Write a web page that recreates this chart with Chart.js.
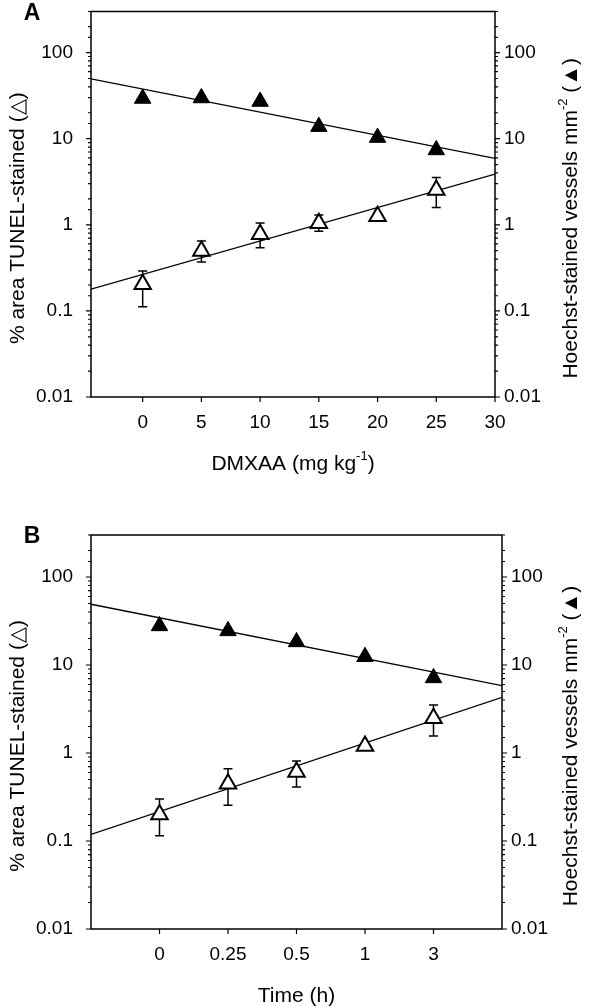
<!DOCTYPE html>
<html>
<head>
<meta charset="utf-8">
<title>DMXAA - TUNEL / Hoechst</title>
<script src="https://cdn.jsdelivr.net/npm/chart.js@4.4.1/dist/chart.umd.min.js"></script>
<style>
  html, body { margin: 0; padding: 0; background: #fff; }
  canvas { display: block; }
</style>
</head>
<body>
<canvas id="chartA" width="600" height="503"></canvas>
<canvas id="chartB" width="600" height="503"></canvas>
<script>
// Panel A - dose (mg/kg)
var doseA = [0, 5, 10, 15, 20, 25];
var hoechstA = [29.3, 29.7, 27.0, 13.8, 10.3, 7.4];
var tunelA = [0.204, 0.495, 0.776, 1.04, 1.26, 2.53];
var tunelHiA = [0.29, 0.65, 1.05, 1.30, null, 3.55];
var tunelLoA = [0.112, 0.37, 0.54, 0.84, null, 1.59];
var fitXA = [-4.4, 30];
var fitHoechstA = [49.5, 5.9];
var fitTunelA = [0.179, 3.88];
var xTicksA = [0, 5, 10, 15, 20, 25, 30];

// Panel B - time (h), equally spaced categories
var timeLabelsB = ['0', '0.25', '0.5', '1', '3'];
var hoechstB = [27.8, 24.4, 18.3, 12.4, 7.13];
var tunelB = [0.20, 0.446, 0.61, 1.2, 2.49];
var tunelHiB = [0.30, 0.66, 0.81, null, 3.5];
var tunelLoB = [0.115, 0.255, 0.41, null, 1.56];
var fitXB = [-1, 5];
var fitHoechstB = [49, 5.84];
var fitTunelB = [0.119, 4.3];

var yTickLabels = [0.01, 0.1, 1, 10, 100];
var yMin = 0.01, yMax = 300;

var FONT = '"Liberation Sans", Arial, Helvetica, sans-serif';

function isDecade(v) {
  return yTickLabels.some(function(t) { return Math.abs(v - t) < t * 1e-6; });
}

function pts(xs, ys) {
  return xs.map(function(x, i) { return {x: x, y: ys[i]}; });
}

// text with superscript parts, centred on (cx, cy)
function drawRich(ctx, parts, cx, cy, size, rotate) {
  ctx.save();
  ctx.translate(cx, cy);
  if (rotate) ctx.rotate(-Math.PI / 2);
  var fonts = parts.map(function(p) {
    return (p.sup ? Math.round(size * 0.62) : size) + 'px ' + FONT;
  });
  var widths = parts.map(function(p, i) { ctx.font = fonts[i]; return ctx.measureText(p.t).width; });
  var x = -widths.reduce(function(a, b) { return a + b; }, 0) / 2;
  ctx.fillStyle = '#000';
  ctx.textBaseline = 'alphabetic';
  parts.forEach(function(p, i) {
    ctx.font = fonts[i];
    ctx.fillText(p.t, x, p.sup ? size * 0.36 - size * 0.45 : size * 0.36);
    x += widths[i];
  });
  ctx.restore();
}

var errorBars = {
  id: 'errorBars',
  beforeDatasetsDraw: function(chart, args, opts) {
    var ctx = chart.ctx, xs = chart.scales.x, ys = chart.scales.y;
    ctx.save();
    ctx.strokeStyle = '#000';
    ctx.lineWidth = 1.5;
    opts.x.forEach(function(xv, i) {
      if (opts.hi[i] == null) return;
      var px = xs.getPixelForValue(xv);
      var top = ys.getPixelForValue(opts.hi[i]);
      var bot = ys.getPixelForValue(opts.lo[i]);
      ctx.beginPath();
      ctx.moveTo(px, top); ctx.lineTo(px, bot);
      ctx.moveTo(px - 4.5, top); ctx.lineTo(px + 4.5, top);
      ctx.moveTo(px - 4.5, bot); ctx.lineTo(px + 4.5, bot);
      ctx.stroke();
    });
    ctx.restore();
  }
};

var frameAndText = {
  id: 'frameAndText',
  afterDraw: function(chart, args, opts) {
    var ctx = chart.ctx, a = chart.chartArea;
    ctx.save();
    ctx.strokeStyle = '#000';
    ctx.lineWidth = 1.5;
    ctx.strokeRect(a.left, a.top, a.right - a.left, a.bottom - a.top);
    ctx.lineWidth = 1.2;
    ctx.beginPath();
    chart.scales.y.ticks.forEach(function(t) {
      var py = chart.scales.y.getPixelForValue(t.value);
      var len = isDecade(t.value) ? 5 : 3;
      ctx.moveTo(a.left - len, py); ctx.lineTo(a.left, py);
      ctx.moveTo(a.right, py); ctx.lineTo(a.right + len, py);
    });
    chart.scales.x.ticks.forEach(function(t) {
      var px = chart.scales.x.getPixelForValue(t.value);
      ctx.moveTo(px, a.bottom); ctx.lineTo(px, a.bottom + 5);
    });
    ctx.stroke();
    ctx.restore();

    var cy = (a.top + a.bottom) / 2;
    drawRich(ctx, opts.xTitle, (a.left + a.right) / 2, a.bottom + 65, 21, false);
    drawRich(ctx, [{t: '% area TUNEL-stained (\u25B3)'}], 16, cy + 14, 21, true);
    drawRich(ctx, [{t: 'Hoechst-stained vessels mm'}, {t: '-2', sup: true}, {t: ' (\u25B2)'}], 569, cy + 14, 21, true);

    ctx.save();
    ctx.fillStyle = '#000';
    ctx.font = 'bold 23px ' + FONT;
    ctx.textAlign = 'center';
    ctx.textBaseline = 'middle';
    ctx.fillText(opts.letter, 32, a.top + 2);
    ctx.restore();
  }
};

function yAxis(pos, width, pad) {
  return {
    type: 'logarithmic',
    position: pos,
    min: yMin,
    max: yMax,
    afterFit: function(s) { s.width = width; s.paddingTop = 0; s.paddingBottom = 0; },
    grid: {display: false, drawTicks: false},
    border: {display: false},
    ticks: {
      autoSkip: false,
      padding: pad,
      color: '#000',
      font: {family: FONT, size: 19},
      callback: function(v) { return isDecade(v) ? String(v) : ''; }
    }
  };
}

function makeChart(id, cfg) {
  return new Chart(document.getElementById(id), {
    type: 'scatter',
    data: {
      datasets: [
        {type: 'line', data: pts(cfg.fitX, cfg.fitH), borderColor: '#000', borderWidth: 1.3,
         pointRadius: 0, fill: false, order: 3},
        {type: 'line', data: pts(cfg.fitX, cfg.fitT), borderColor: '#000', borderWidth: 1.3,
         pointRadius: 0, fill: false, order: 3},
        {label: 'Hoechst', data: pts(cfg.x, cfg.hoechst), pointStyle: 'triangle', pointRadius: 9.5,
         backgroundColor: '#000', borderColor: '#000', borderWidth: 1, order: 1},
        {label: 'TUNEL', data: pts(cfg.x, cfg.tunel), pointStyle: 'triangle', pointRadius: 9.5,
         backgroundColor: '#fff', borderColor: '#000', borderWidth: 2, order: 1}
      ]
    },
    options: {
      responsive: false,
      animation: false,
      devicePixelRatio: 1,
      layout: {padding: {top: cfg.top, left: 0, right: 0, bottom: 0}},
      plugins: {
        legend: {display: false},
        tooltip: {enabled: false},
        errorBars: {x: cfg.x, hi: cfg.hi, lo: cfg.lo},
        frameAndText: {letter: cfg.letter, xTitle: cfg.xTitle}
      },
      scales: {
        x: {
          type: 'linear',
          min: cfg.fitX[0],
          max: cfg.fitX[1],
          afterBuildTicks: function(s) { s.ticks = cfg.xTicks.map(function(v) { return {value: v}; }); },
          afterFit: function(s) { s.height = cfg.xHeight; s.paddingLeft = 0; s.paddingRight = 0; },
          grid: {display: false, drawTicks: false},
          border: {display: false},
          ticks: {
            autoSkip: false,
            maxRotation: 0,
            padding: 14,
            color: '#000',
            font: {family: FONT, size: 19},
            callback: cfg.xLabel
          }
        },
        y: yAxis('left', 91, 18),
        y2: yAxis('right', cfg.rightWidth, 9)
      }
    },
    plugins: [errorBars, frameAndText]
  });
}

makeChart('chartA', {
  letter: 'A', top: 11, xHeight: 106, rightWidth: 105,
  x: doseA, hoechst: hoechstA, tunel: tunelA, hi: tunelHiA, lo: tunelLoA,
  fitX: fitXA, fitH: fitHoechstA, fitT: fitTunelA,
  xTicks: xTicksA,
  xLabel: function(v) { return String(v); },
  xTitle: [{t: 'DMXAA (mg kg'}, {t: '-1', sup: true}, {t: ')'}]
});

makeChart('chartB', {
  letter: 'B', top: 32, xHeight: 77, rightWidth: 98,
  x: timeLabelsB.map(function(l, i) { return i; }), hoechst: hoechstB, tunel: tunelB, hi: tunelHiB, lo: tunelLoB,
  fitX: fitXB, fitH: fitHoechstB, fitT: fitTunelB,
  xTicks: timeLabelsB.map(function(l, i) { return i; }),
  xLabel: function(v) { return timeLabelsB[v]; },
  xTitle: [{t: 'Time (h)'}]
});
</script>
</body>
</html>
